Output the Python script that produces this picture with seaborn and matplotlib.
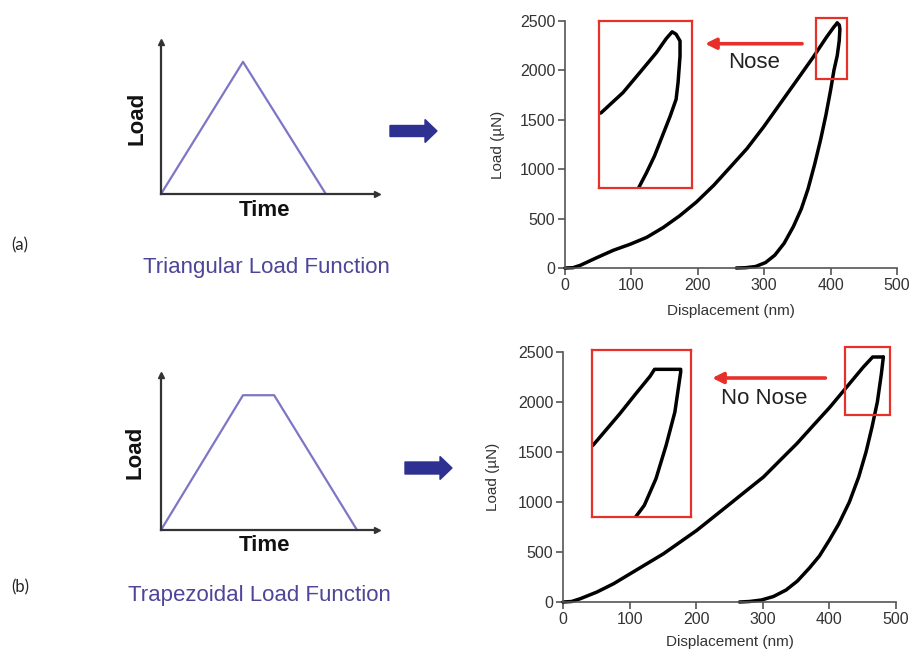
import numpy as np
import pandas as pd
import seaborn as sns
import matplotlib.pyplot as plt
from matplotlib.patches import Rectangle, FancyArrow

# schematic load functions (time, load - arbitrary units)
tri_time = [0, 5, 10.05]
tri_force = [0, 1, 0]
trap_time = [0, 5, 6.9, 11.95]
trap_force = [0, 1, 1, 0]

# (a) triangular load function: displacement (nm), load (uN)
a_load_x = [0, 12, 23, 48, 73, 98, 123, 148, 173, 198, 224, 249, 274, 299, 324, 349, 374, 394, 405, 410]
a_load_y = [0, 3, 27, 105, 180, 240, 310, 410, 530, 668, 837, 1022, 1208, 1427, 1663, 1899, 2136, 2338, 2440, 2480]
a_unload_x = [410, 413, 414, 413, 410, 405, 400, 393, 385, 376, 366, 356, 344, 330, 316, 302, 287, 272, 258]
a_unload_y = [2480, 2460, 2420, 2300, 2150, 2000, 1800, 1550, 1300, 1050, 800, 600, 420, 250, 130, 55, 15, 3, 0]
# zoomed view of the nose
a_zoom_x = [378.5, 379, 390, 399, 407, 412, 415, 417, 419, 419, 418, 417, 414, 410, 406, 402, 398, 397]
a_zoom_y = [2186, 2188, 2262, 2340, 2410, 2462, 2487, 2478, 2453, 2397, 2299, 2237, 2175, 2101, 2027, 1966, 1910, 1895]

# (b) trapezoidal load function
b_load_x = [0, 13, 26, 51, 76, 101, 126, 151, 176, 201, 226, 251, 276, 301, 326, 351, 376, 401, 426, 451, 465, 481]
b_load_y = [0, 5, 33, 100, 183, 283, 383, 483, 600, 717, 850, 983, 1117, 1250, 1417, 1583, 1767, 1950, 2150, 2350, 2450, 2450]
b_unload_x = [481, 478, 472, 464, 455, 444, 430, 414, 400, 385, 370, 352, 335, 316, 298, 280, 265]
b_unload_y = [2450, 2280, 2000, 1750, 1500, 1250, 1000, 780, 620, 460, 340, 210, 120, 55, 20, 5, 0]
b_zoom_x = [423.5, 424, 442, 453, 463, 466, 484, 484, 480, 474, 467, 459, 453, 452]
b_zoom_y = [2163, 2166, 2292, 2374, 2447, 2475, 2475, 2464, 2300, 2164, 2027, 1918, 1870, 1860]

disp_ticks = [0, 100, 200, 300, 400, 500]
load_ticks = [0, 500, 1000, 1500, 2000, 2500]

RED = '#e8302a'
NAVY = '#2e3192'
LAV = '#7d76c6'
PURP = '#4e4598'

sns.set_theme(style='ticks')
plt.rcParams['font.family'] = ['Liberation Sans', 'DejaVu Sans']

fig = plt.figure(figsize=(9.1, 6.53), dpi=100)


def schematic(rect, t, f, label_pos, time_pos):
    ax = fig.add_axes(rect)
    sns.lineplot(x=t, y=f, ax=ax, sort=False, color=LAV, lw=1.6, estimator=None, clip_on=False)
    ax.set_xlim(0, 13.17)
    ax.set_ylim(0, 1.15)
    ax.set(xticks=[], yticks=[], xlabel='', ylabel='')
    sns.despine(ax=ax)
    for s in ['left', 'bottom']:
        ax.spines[s].set_color('#333333')
        ax.spines[s].set_linewidth(1.6)
    ax.plot(1, 0, '>', color='#333333', ms=5, transform=ax.get_yaxis_transform(), clip_on=False)
    ax.plot(0, 1, '^', color='#333333', ms=5, transform=ax.get_xaxis_transform(), clip_on=False)
    ax.text(*label_pos, 'Load', rotation=90, ha='center', va='center', fontsize=16,
            fontweight='bold', color='#111111', transform=ax.transAxes)
    ax.text(*time_pos, 'Time', ha='center', va='center', fontsize=16,
            fontweight='bold', color='#111111', transform=ax.transAxes)
    return ax


def curve_panel(rect, lx, ly, ux, uy, zx, zy, big_box, small_box, arrow, text, text_pos, ylab_x, xlab_y):
    ax = fig.add_axes(rect)
    sns.lineplot(x=lx, y=ly, ax=ax, sort=False, color='black', lw=2.5, estimator=None, clip_on=False)
    sns.lineplot(x=ux, y=uy, ax=ax, sort=False, color='black', lw=2.5, estimator=None, clip_on=False)
    ax.set_xlim(0, 500)
    ax.set_ylim(0, 2500)
    ax.set_xticks(disp_ticks)
    ax.set_yticks(load_ticks)
    sns.despine(ax=ax)
    for s in ['left', 'bottom']:
        ax.spines[s].set_color('#555555')
        ax.spines[s].set_linewidth(1.2)
    ax.tick_params(length=5, width=1.2, color='#555555', labelcolor='#333333', labelsize=11.5, pad=2)
    ax.set_xlabel('Displacement (nm)', fontsize=11, color='#333333')
    ax.set_ylabel('Load (µN)', fontsize=11, color='#333333')
    ax.xaxis.set_label_coords(0.5, xlab_y)
    ax.yaxis.set_label_coords(ylab_x, 0.5)

    # small box marking the zoomed region
    x0, x1, y0, y1 = small_box
    ax.add_patch(Rectangle((x0, y0), x1 - x0, y1 - y0, fill=False, ec=RED, lw=1.6, clip_on=False, zorder=4))

    # zoomed inset
    bx0, bx1, by0, by1 = big_box
    ins = ax.inset_axes([bx0, by0, bx1 - bx0, by1 - by0], transform=ax.transData)
    sns.lineplot(x=zx, y=zy, ax=ins, sort=False, color='black', lw=2.5, estimator=None)
    ins.set_xlim(x0, x1)
    ins.set_ylim(y0, y1)
    ins.set(xticks=[], yticks=[], xlabel='', ylabel='')
    ins.set_facecolor('none')
    for s in ins.spines.values():
        s.set_color(RED)
        s.set_linewidth(1.6)

    ax.annotate('', xy=(arrow[1], arrow[2]), xytext=(arrow[0], arrow[2]),
                arrowprops=dict(arrowstyle='-|>', color=RED, lw=2.6, mutation_scale=16, shrinkA=0, shrinkB=0))
    ax.text(*text_pos, text, ha='center', va='center', fontsize=16, color='#222222')
    return ax


# (a)
schematic([161 / 910, 1 - 194 / 653, 216 / 910, 152 / 653], tri_time, tri_force,
          (-0.11, 0.5), (0.48, -0.11))
curve_panel([565 / 910, 1 - 268 / 653, 332 / 910, 247 / 653],
            a_load_x, a_load_y, a_unload_x, a_unload_y, a_zoom_x, a_zoom_y,
            (51.8, 191, 813, 2500), (378, 425, 1910, 2527), (357, 211, 2270),
            'Nose', (285, 2085), -0.18, -0.145)

# (b)
schematic([161 / 910, 1 - 530 / 653, 216 / 910, 155 / 653], trap_time, trap_force,
          (-0.12, 0.5), (0.48, -0.097))
curve_panel([563 / 910, 1 - 602 / 653, 333 / 910, 250 / 653],
            b_load_x, b_load_y, b_unload_x, b_unload_y, b_zoom_x, b_zoom_y,
            (43.5, 192, 850, 2517), (423, 491, 1870, 2553), (394, 224, 2240),
            'No Nose', (302, 2040), -0.19, -0.132)

# overlay in pixel units for the annotations between panels
over = fig.add_axes([0, 0, 1, 1], zorder=-1)
over.set_xlim(0, 910)
over.set_ylim(653, 0)
over.axis('off')
over.add_patch(FancyArrow(390, 131, 47, 0, width=11, head_width=23, head_length=12,
                          length_includes_head=True, color=NAVY))
over.add_patch(FancyArrow(405, 468, 47, 0, width=12, head_width=23, head_length=12,
                          length_includes_head=True, color=NAVY))
over.text(20, 245, '(a)', ha='center', va='center', fontsize=12, family=['Lato', 'DejaVu Sans'])
over.text(20, 587, '(b)', ha='center', va='center', fontsize=12, family=['Lato', 'DejaVu Sans'])
over.text(266, 268, 'Triangular Load Function', ha='center', va='center', fontsize=16, color=PURP)
over.text(259, 595, 'Trapezoidal Load Function', ha='center', va='center', fontsize=16, color=PURP)

fig.savefig('out.png', dpi=100)
